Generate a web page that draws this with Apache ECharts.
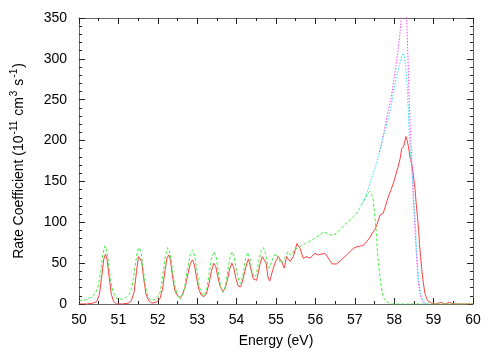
<!DOCTYPE html>
<html>
<head>
    <meta charset="utf-8">
    <title>Rate Coefficient vs Energy</title>
    <script src="https://cdn.jsdelivr.net/npm/echarts@6/dist/echarts.min.js"></script>
    <style>
        body { margin: 0; background: #fff; }
        #container { width: 500px; height: 350px; }
    </style>
</head>
<body>
<div id="container"></div>
<script type="text/javascript">
// axis ticks
var xTicks = [50, 51, 52, 53, 54, 55, 56, 57, 58, 59, 60];
var yTicks = [0, 50, 100, 150, 200, 250, 300, 350];

// red solid curve
var redE = [50.0, 50.2, 50.35, 50.45, 50.52, 50.58, 50.63, 50.67, 50.71, 50.76, 50.82, 50.88, 50.95, 51.1, 51.25, 51.33,
    51.4, 51.46, 51.51, 51.55, 51.59, 51.64, 51.7, 51.77, 51.85, 51.95, 52.05, 52.12, 52.18, 52.23, 52.28, 52.32,
    52.37, 52.43, 52.5, 52.57, 52.63, 52.7, 52.77, 52.83, 52.88, 52.93, 52.98, 53.04, 53.1, 53.17, 53.23, 53.3,
    53.36, 53.42, 53.47, 53.52, 53.58, 53.64, 53.7, 53.77, 53.83, 53.88, 53.93, 53.98, 54.04, 54.1, 54.15, 54.21,
    54.26, 54.3, 54.35, 54.42, 54.51, 54.59, 54.65, 54.7, 54.75, 54.8, 54.84, 54.92, 54.99, 55.06, 55.14, 55.21,
    55.27, 55.36, 55.44, 55.53, 55.61, 55.69, 55.78, 55.86, 55.99, 56.07, 56.15, 56.24, 56.33, 56.43, 56.54, 56.66,
    56.79, 56.88, 56.96, 57.05, 57.15, 57.22, 57.3, 57.39, 57.45, 57.51, 57.56, 57.64, 57.72, 57.78, 57.85, 57.92,
    57.98, 58.04, 58.1, 58.15, 58.19, 58.24, 58.3, 58.33, 58.36, 58.4, 58.44, 58.47, 58.5, 58.53, 58.56, 58.59,
    58.62, 58.64, 58.67, 58.7, 58.74, 58.78, 58.83, 58.87, 58.95, 59.05, 59.2, 59.28, 59.4, 59.5, 60.0];
var redY = [0, 0, 1, 3, 12, 35, 55, 61, 55, 35, 12, 3, 0, 0, 1, 4,
    15, 40, 58, 60, 52, 32, 12, 4, 1, 2, 6, 18, 40, 56, 60, 54,
    35, 17, 10, 8, 12, 22, 38, 50, 54, 48, 33, 18, 11, 9, 12, 25,
    40, 50, 46, 34, 22, 16, 18, 30, 44, 50, 44, 32, 22, 21, 28, 40,
    50, 55, 46, 31, 29, 48, 58, 60, 50, 32, 28, 42, 52, 58, 52, 44,
    58, 52, 58, 74, 68, 56, 58, 56, 62, 60, 61, 62, 56, 49, 49, 54,
    60, 64, 68, 70, 71, 72, 76, 82, 87, 91, 97, 109, 111, 120, 131, 140,
    148, 158, 168, 178, 190, 193, 205, 200, 193, 180, 172, 164, 152, 140, 122, 107,
    90, 74, 58, 42, 26, 13, 6, 3, 1, 0, 2, 0, 2, 0, 0];

// green dashed curve
var greenE = [50.0, 50.1, 50.2, 50.3, 50.4, 50.48, 50.55, 50.61, 50.66, 50.7, 50.75, 50.8, 50.86, 50.93, 51.0, 51.1,
    51.2, 51.28, 51.35, 51.42, 51.48, 51.53, 51.58, 51.63, 51.69, 51.75, 51.82, 51.9, 52.0, 52.07, 52.13, 52.19,
    52.25, 52.3, 52.36, 52.42, 52.49, 52.56, 52.62, 52.68, 52.75, 52.82, 52.88, 52.93, 52.99, 53.05, 53.12, 53.18,
    53.24, 53.3, 53.36, 53.43, 53.48, 53.54, 53.6, 53.66, 53.72, 53.78, 53.84, 53.89, 53.94, 54.0, 54.06, 54.11,
    54.17, 54.23, 54.29, 54.34, 54.4, 54.45, 54.5, 54.56, 54.62, 54.68, 54.73, 54.78, 54.82, 54.88, 54.94, 55.0,
    55.06, 55.12, 55.18, 55.24, 55.3, 55.36, 55.42, 55.48, 55.55, 55.61, 55.68, 55.74, 55.82, 55.91, 55.97, 56.03,
    56.1, 56.2, 56.28, 56.36, 56.45, 56.54, 56.62, 56.7, 56.79, 56.88, 56.96, 57.05, 57.12, 57.2, 57.27, 57.33,
    57.38, 57.43, 57.47, 57.51, 57.55, 57.58, 57.61, 57.65, 57.69, 57.74, 57.8, 57.88, 57.95, 60.0];
var greenY = [4, 4, 6, 8, 12, 20, 40, 62, 71, 66, 50, 30, 15, 8, 6, 6,
    8, 12, 22, 45, 64, 69, 62, 42, 20, 9, 5, 5, 8, 16, 36, 58,
    69, 64, 46, 25, 12, 6, 8, 20, 42, 60, 66, 60, 42, 22, 12, 11,
    18, 36, 55, 64, 58, 38, 20, 14, 22, 42, 59, 64, 57, 40, 28, 25,
    38, 56, 63, 55, 38, 33, 36, 52, 65, 69, 62, 50, 44, 50, 58, 62,
    56, 50, 52, 58, 64, 60, 62, 68, 68, 70, 72, 74, 76, 78, 80, 82,
    84, 88, 87, 85, 84, 87, 91, 95, 99, 103, 107, 111, 117, 124, 130, 135,
    138, 134, 126, 107, 85, 62, 45, 28, 15, 7, 3, 1, 0, 0];

// cyan dotted curve
var cyanE = [57.2, 57.27, 57.35, 57.45, 57.55, 57.64, 57.72, 57.8, 57.88, 57.95, 58.02, 58.08, 58.14, 58.19, 58.23, 58.27,
    58.3, 58.33, 58.36, 58.38, 58.41, 58.44, 58.47, 58.5, 58.53, 58.56, 58.59, 58.62, 58.66, 58.7, 58.75, 58.82];
var cyanY = [124, 131, 142, 158, 172, 188, 205, 218, 232, 250, 268, 282, 294, 303, 307, 301,
    285, 266, 235, 209, 185, 168, 150, 125, 103, 75, 50, 30, 16, 8, 3, 0];

// magenta dotted curve
var magentaE = [57.62, 57.68, 57.76, 57.85, 57.92, 57.98, 58.04, 58.1, 58.14, 58.17, 58.2, 58.25, 58.3, 58.32, 58.35, 58.38,
    58.41, 58.43, 58.46, 58.49, 58.52, 58.55, 58.58, 58.61, 58.65, 58.69, 58.74, 58.8];
var magentaY = [186, 196, 215, 237, 252, 270, 290, 311, 328, 345, 360, 368, 362, 345, 300, 250,
    215, 195, 160, 125, 100, 72, 48, 28, 14, 6, 2, 0];

function pairs(xs, ys) {
    var out = [];
    for (var i = 0; i < xs.length; i++) out.push([xs[i], ys[i]]);
    return out;
}

var font = 'Liberation Sans, Arial, sans-serif';
var dom = document.getElementById("container");
var myChart = echarts.init(dom, null, {renderer: 'canvas'});

var tickLine = {color: '#222', width: 1};
function frameAxis(pos, isX, show) {
    return {
        type: 'value',
        position: pos,
        min: isX ? xTicks[0] : yTicks[0],
        max: isX ? xTicks[xTicks.length - 1] : yTicks[yTicks.length - 1],
        interval: isX ? 1 : 50,
        axisLine: {show: true, onZero: false, lineStyle: {color: '#666', width: 1}},
        axisTick: {show: true, inside: true, length: 6, lineStyle: tickLine},
        minorTick: {show: true, splitNumber: isX ? 2 : 5, length: 3, lineStyle: tickLine},
        axisLabel: {show: show, color: '#000', fontSize: 14, fontFamily: font, margin: isX ? 9 : 12},
        splitLine: {show: false}
    };
}

var xBottom = frameAxis('bottom', true, true);
xBottom.name = 'Energy (eV)';
xBottom.nameLocation = 'middle';
xBottom.nameGap = 30;
xBottom.nameTextStyle = {color: '#000', fontSize: 14, fontFamily: font};

var yLeft = frameAxis('left', false, true);
yLeft.name = 'Rate Coefficient (10{sup|-11} cm{sup|3} s{sup|-1})';
yLeft.nameLocation = 'middle';
yLeft.nameGap = 50;
yLeft.nameTextStyle = {
    color: '#000', fontSize: 14, fontFamily: font, lineHeight: 20,
    rich: {sup: {fontSize: 10, fontFamily: font, color: '#000', verticalAlign: 'top', lineHeight: 10, padding: [0, 1, 0, 1]}}
};

option = {
    backgroundColor: '#fff',
    animation: false,
    grid: {left: 79, right: 27, top: 18, bottom: 46, outerBoundsMode: 'none'},
    xAxis: [xBottom, frameAxis('top', true, false)],
    yAxis: [yLeft, frameAxis('right', false, false)],
    series: [
        {
            name: 'red', type: 'line', showSymbol: false, data: pairs(redE, redY),
            lineStyle: {color: '#ff4040', width: 1}
        },
        {
            name: 'green', type: 'line', showSymbol: false, data: pairs(greenE, greenY),
            lineStyle: {color: '#40f040', width: 1, type: [3, 2]}
        },
        {
            name: 'magenta', type: 'line', showSymbol: false, data: pairs(magentaE, magentaY),
            lineStyle: {color: '#ff40ff', width: 1, type: [1.5, 1.5]}
        },
        {
            name: 'cyan', type: 'line', showSymbol: false, data: pairs(cyanE, cyanY),
            lineStyle: {color: '#30e0ff', width: 1, type: [1.5, 1.5]}
        }
    ]
};
myChart.setOption(option, true);
</script>
</body>
</html>
